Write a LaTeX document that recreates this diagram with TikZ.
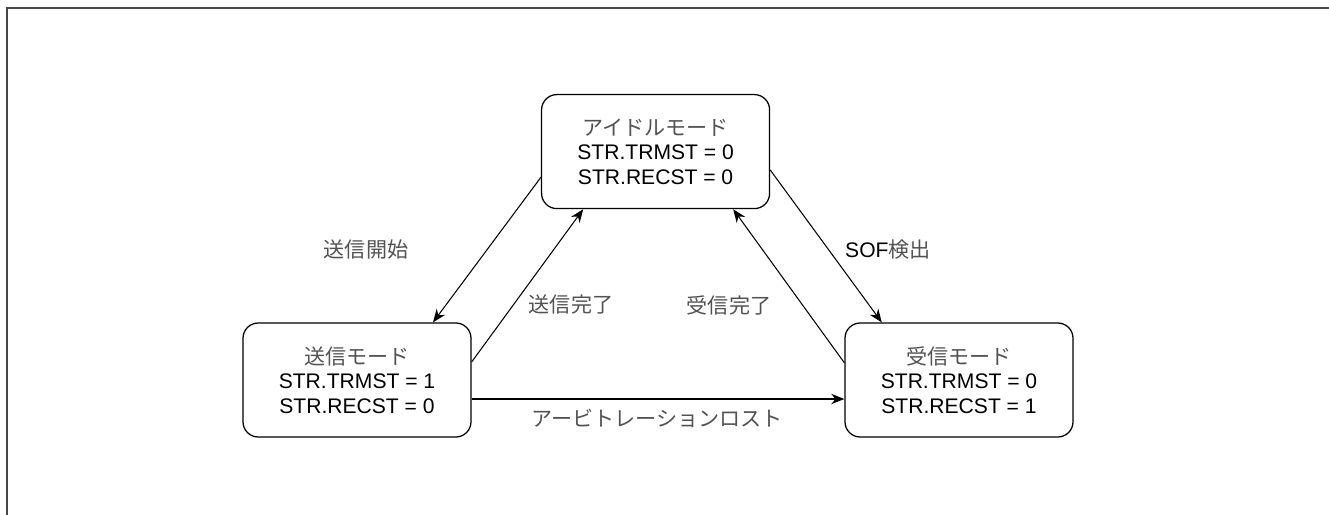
\documentclass[tikz,border=0pt]{standalone}
\usepackage{fontspec}
\setmainfont{Liberation Sans}
\newfontfamily\jpfont{Noto Sans CJK JP}
\usepackage{xcolor}
\usetikzlibrary{arrows.meta,positioning,calc}
\newcommand{\jptxt}[1]{{\jpfont\color{black!68}#1}}
\tikzset{
  mode/.style={rectangle,rounded corners=0.38cm,draw=black,line width=0.9pt,
               minimum width=5.7cm,minimum height=2.85cm,align=center,
               font=\fontsize{15}{17.5}\selectfont},
  lbl/.style={font=\fontsize{15}{17.5}\selectfont},
  arr/.style={-{Stealth[length=3.3mm,width=2.6mm]},draw=black,line width=0.75pt},
  frame/.style={draw=black!72,line width=1.4pt},
}

\begin{document}
\begin{tikzpicture}[x=1cm,y=1cm]
  \useasboundingbox (0,0) rectangle (33.225,-12.875);
  % --- 枠 ---
  \draw[frame] (33.225,-0.19) -- (0.17,-0.19) -- (0.17,-12.875);
  % --- 状態 ---
  \node[mode] (idle) at (16.39 ,-3.79) {\jptxt{アイドルモード}\\STR.TRMST = 0\\STR.RECST = 0};
  \node[mode] (send) at ( 8.925,-9.5 ) {\jptxt{送信モード}\\STR.TRMST = 1\\STR.RECST = 0};
  \node[mode] (recv) at (23.975,-9.5 ) {\jptxt{受信モード}\\STR.TRMST = 0\\STR.RECST = 1};
  % --- 遷移 ---
  \draw[arr] ([yshift=-0.64cm]idle.west) -- ([xshift=1.9cm]send.north);
  \draw[arr] ([yshift=0.45cm]send.east) -- ([xshift=-1.81cm]idle.south);
  \draw[arr] ([yshift=-0.46cm]idle.east) -- ([xshift=-1.93cm]recv.north);
  \draw[arr] ([yshift=0.43cm]recv.west) -- ([xshift=1.94cm]idle.south);
  \draw[arr] ([yshift=-0.475cm]send.east) -- ([yshift=-0.475cm]recv.west);
  % --- ラベル ---
  \node[lbl] (lstart) at ( 9.15 ,-6.25 ) {\jptxt{送信開始}};
  \node[lbl] (ldone)  at (14.275,-7.625) {\jptxt{送信完了}};
  \node[lbl] (lrecv)  at (18.225,-7.625) {\jptxt{受信完了}};
  \node[lbl] (lsof)   at (22.2  ,-6.25 ) {SOF\jptxt{検出}};
  \node[lbl] (llost)  at (16.425,-10.45) {\jptxt{アービトレーションロスト}};
\end{tikzpicture}
\end{document}
